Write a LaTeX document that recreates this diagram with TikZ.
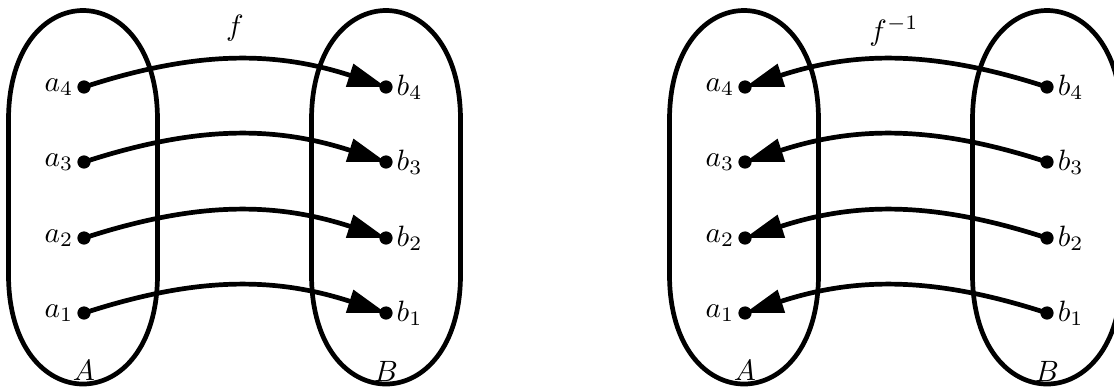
\documentclass[tikz,border=0pt]{standalone}
\usetikzlibrary{arrows.meta}
\begin{document}
\begin{tikzpicture}[x=0.34pt, y=-0.34pt,
  setline/.style={line width=1.6pt},
  dot/.style={circle, fill=black, inner sep=0pt, minimum size=4.5pt},
  maparrow/.style={line width=1.6pt, -{Triangle[length=13pt,width=7.8pt]}},
  elt/.style={inner sep=1pt},
  blob/.pic={
    \draw[setline] (-74.5,274.5) -- (-74.5,120)
      .. controls (-74.5,-26) and (74.5,-26) .. (74.5,120) -- (74.5,274.5)
      .. controls (74.5,420.5) and (-74.5,420.5) .. (-74.5,274.5) -- cycle;
  }]
\useasboundingbox (0,0) rectangle (1114,388);
\clip (0,0) rectangle (1114,388);

% the function f : A -> B
\pic at (83,0) {blob};
\pic at (386,0) {blob};
\foreach \i/\y in {1/313,2/238,3/162,4/87} {
  \node[dot, label={[elt]left:$a_\i$}] (La\i) at (84,\y) {};
  \node[dot, label={[elt]right:$b_\i$}] (Lb\i) at (386,\y) {};
  \draw[maparrow] (La\i.center) to[bend left=18] (Lb\i.center);
}
\node (Lf) at (235,28) {$f$};
\node (LA) at (84,370) {$A$};
\node (LB) at (386,371) {$B$};

% the inverse f^{-1} : B -> A
\pic at (744,0) {blob};
\pic at (1047,0) {blob};
\foreach \i/\y in {1/313,2/238,3/162,4/87} {
  \node[dot, label={[elt]left:$a_\i$}] (Ra\i) at (745,\y) {};
  \node[dot, label={[elt]right:$b_\i$}] (Rb\i) at (1047,\y) {};
  \draw[maparrow] (Rb\i.center) to[bend right=18] (Ra\i.center);
}
\node (Rf) at (894,31) {$f^{-1}$};
\node (RA) at (745,370) {$A$};
\node (RB) at (1047,371) {$B$};
\end{tikzpicture}
\end{document}
